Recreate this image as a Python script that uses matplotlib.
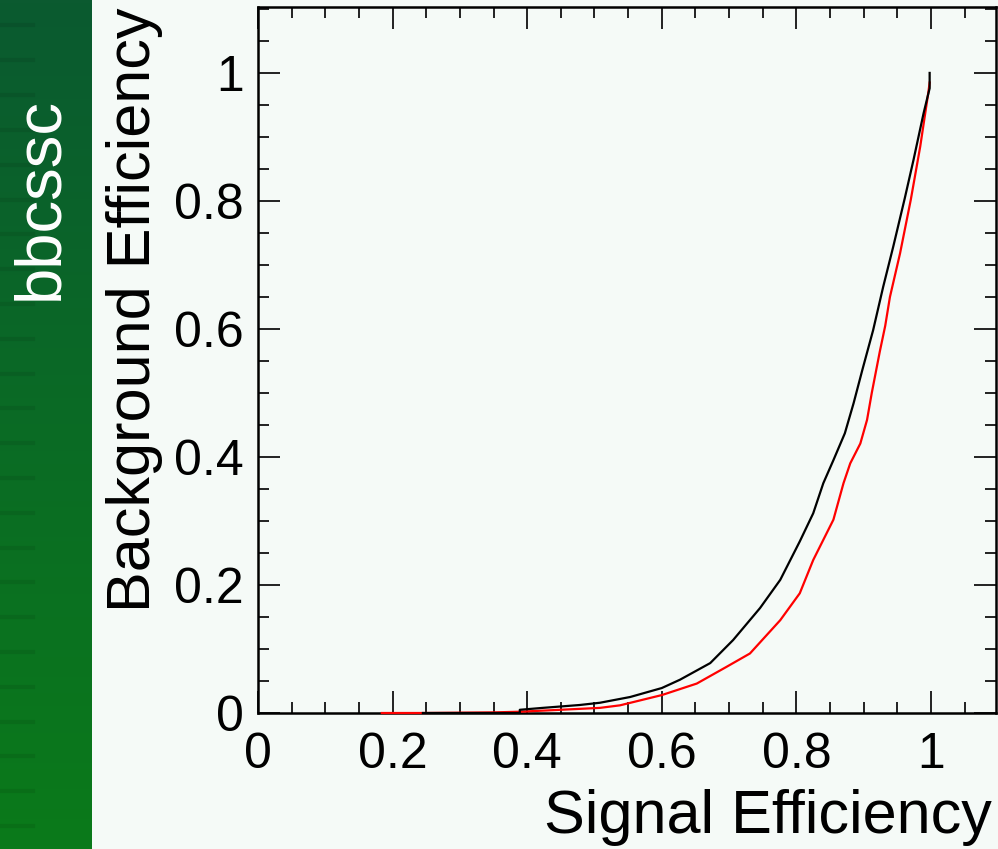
"""ROC-style efficiency plot (signal vs background efficiency)."""

import matplotlib

matplotlib.use("Agg")
import matplotlib.pyplot as plt
import numpy as np
from matplotlib.colors import LinearSegmentedColormap
from matplotlib.ticker import MultipleLocator

plt.rcParams["font.family"] = ["Liberation Sans", "DejaVu Sans"]

# black curve
sig_eff_a = [0.245, 0.389, 0.389, 0.423, 0.478, 0.508, 0.538, 0.553, 0.600, 0.627,
             0.672, 0.706, 0.746, 0.776, 0.805, 0.825, 0.840, 0.855, 0.872, 0.885,
             0.898, 0.914, 0.929, 0.944, 0.961, 0.974, 0.989, 0.998, 0.998]
bkg_eff_a = [0.000, 0.000, 0.005, 0.008, 0.0125, 0.016, 0.022, 0.025, 0.039, 0.052,
             0.078, 0.114, 0.164, 0.208, 0.268, 0.312, 0.359, 0.395, 0.437, 0.484,
             0.536, 0.598, 0.666, 0.729, 0.804, 0.864, 0.937, 0.976, 1.000]

# red curve
sig_eff_b = [0.184, 0.245, 0.352, 0.389, 0.449, 0.508, 0.538, 0.600, 0.652, 0.696,
             0.731, 0.776, 0.805, 0.825, 0.855, 0.870, 0.880, 0.895, 0.905, 0.912,
             0.924, 0.932, 0.939, 0.954, 0.970, 0.984, 0.996, 0.998]
bkg_eff_b = [0.000, 0.000, 0.001, 0.002, 0.005, 0.008, 0.012, 0.028, 0.046, 0.072,
             0.093, 0.145, 0.187, 0.239, 0.302, 0.359, 0.390, 0.421, 0.458, 0.500,
             0.565, 0.605, 0.650, 0.718, 0.802, 0.885, 0.969, 0.985]

BG = "#f5faf7"

fig = plt.figure(figsize=(9.98, 8.49), dpi=100, facecolor=BG)

# green side stripe
stripe = fig.add_axes([0, 0, 92 / 998, 1])
grad = np.linspace(0, 1, 256).reshape(-1, 1)
cmap = LinearSegmentedColormap.from_list("stripe", ["#0b5a30", "#0a6b25", "#0a7a1a"])
stripe.imshow(grad, aspect="auto", cmap=cmap, extent=[0, 1, 1, 0])
for yy in np.arange(0.03, 1.0, 0.041):
    stripe.plot([0, 0.36], [yy, yy], color="black", alpha=0.08, lw=3)
stripe.set_xlim(0, 1)
stripe.set_ylim(1, 0)
stripe.axis("off")
fig.text(40 / 998, 1 - 198 / 849, "bbcssc", rotation=90, color="white",
         fontsize=47, ha="center", va="center")

ax = fig.add_axes([258 / 998, 1 - 713 / 849, (996 - 258) / 998, (713 - 7) / 849])
ax.set_facecolor(BG)
ax.plot(sig_eff_b, bkg_eff_b, color="#ff0000", lw=1.6, zorder=3, clip_on=False)
ax.plot(sig_eff_a, bkg_eff_a, color="black", lw=1.6, zorder=3, clip_on=False)

ax.set_xlim(0, 1.0966)
ax.set_ylim(0, 1.103)
ax.xaxis.set_major_locator(MultipleLocator(0.2))
ax.xaxis.set_minor_locator(MultipleLocator(0.05))
ax.yaxis.set_major_locator(MultipleLocator(0.2))
ax.yaxis.set_minor_locator(MultipleLocator(0.05))
fmt = plt.FuncFormatter(lambda v, _: f"{v:g}")
ax.xaxis.set_major_formatter(fmt)
ax.yaxis.set_major_formatter(fmt)
ax.tick_params(which="both", direction="in", top=True, right=True, width=1.4,
               color="#222222")
ax.tick_params(which="major", length=15.5)
ax.tick_params(which="minor", length=8)
ax.tick_params(axis="x", labelsize=36, pad=14)
ax.tick_params(axis="y", labelsize=36, pad=10)
for spine in ax.spines.values():
    spine.set_linewidth(1.8)

fig.text(992 / 998, 1 - 833 / 849, "Signal Efficiency", fontsize=44,
         ha="right", va="baseline")
fig.text(135 / 998, 1 - 8 / 849, "Background Efficiency", fontsize=44,
         rotation=90, ha="center", va="top")

fig.savefig("out.png", dpi=100, facecolor=BG)
